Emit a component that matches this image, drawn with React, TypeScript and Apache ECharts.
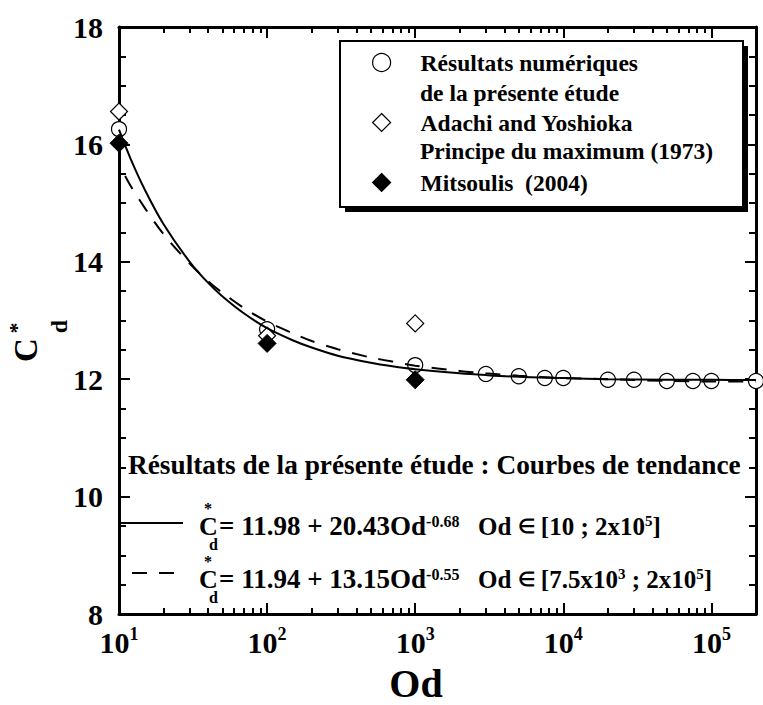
import React, { useEffect, useRef } from "react";
import * as echarts from "echarts";

// ---- Data ----
const numericalResults: [number, number][] = [
  [10, 16.26], [100, 12.85], [1000, 12.24], [3000, 12.09], [5000, 12.05],
  [7500, 12.02], [10000, 12.02], [20000, 11.99], [30000, 11.99],
  [50000, 11.97], [75000, 11.97], [100000, 11.97], [200000, 11.97],
];
const adachiYoshioka: [number, number][] = [[10, 16.56], [100, 12.74], [1000, 12.95]];
const mitsoulis: [number, number][] = [[10, 16.02], [100, 12.61], [1000, 11.99]];

// trend curves
const trendSolid: [number, number][] = [
  [10, 16.25], [12, 15.75], [15, 15.22], [20, 14.64], [30, 14.0], [40, 13.64],
  [50, 13.41], [70, 13.12], [100, 12.87], [150, 12.66], [200, 12.54], [300, 12.4],
  [500, 12.28], [700, 12.22], [1000, 12.17], [2000, 12.1], [3000, 12.07],
  [5000, 12.04], [10000, 12.02], [20000, 12.0], [50000, 11.99], [100000, 11.99],
  [200000, 11.985],
];
const trendDashed: [number, number][] = [
  [11, 15.46], [12, 15.29], [15, 14.91], [20, 14.47], [30, 13.97], [40, 13.67],
  [50, 13.47], [70, 13.21], [100, 12.98], [150, 12.78], [200, 12.65], [300, 12.51],
  [500, 12.37], [700, 12.3], [1000, 12.23], [2000, 12.14], [3000, 12.1],
  [5000, 12.06], [10000, 12.02], [20000, 12.0], [50000, 11.97], [100000, 11.96],
  [200000, 11.96],
];

const xMajorTicks = [10, 100, 1000, 10000, 100000];
const xMinorTicks = [
  20, 30, 40, 50, 60, 70, 80, 90,
  200, 300, 400, 500, 600, 700, 800, 900,
  2000, 3000, 4000, 5000, 6000, 7000, 8000, 9000,
  20000, 30000, 40000, 50000, 60000, 70000, 80000, 90000,
];
const yMin = 8;
const yMax = 18;
const yInterval = 2;

const seriesNames = ["Résultats numériques", "Adachi and Yoshioka", "Mitsoulis  (2004)"];
const legendSecondLines = ["de la présente étude", "Principe du maximum (1973)"];
const trendTitle = "Résultats de la présente étude : Courbes de tendance";
const eqSymbol = "{s|*}\n{c|C}\n{d|d}";
const eq1 = { a: "= 11.98 + 20.43Od", exp: "-0.68", range: "{m|Od }{e|∈}{m| [10 ; 2x10}{s|5}{m|]}" };
const eq2 = { a: "= 11.94 + 13.15Od", exp: "-0.55", range: "{m|Od }{e|∈}{m| [7.5x10}{s|3}{m| ; 2x10}{s|5}{m|]}" };

const FONT = "Liberation Serif";

function logTick(len: number, values: number[]) {
  return { show: true, inside: true, length: len, customValues: values, lineStyle: { color: "#000", width: 2 } };
}

export default function App() {
  const ref = useRef<HTMLDivElement>(null);
  useEffect(() => {
    if (!ref.current) return;
    const chart = echarts.init(ref.current, undefined, { renderer: "svg" });
    const bold = { fontWeight: "bold", fontFamily: FONT, color: "#000" };
    const eqRichA = {
      m: { fontSize: 27, lineHeight: 26, ...bold },
      s: { fontSize: 16, lineHeight: 14, verticalAlign: "top", ...bold },
    };
    const eqRichB = {
      m: { fontSize: 25, lineHeight: 26, ...bold },
      e: { fontSize: 20, lineHeight: 26, ...bold },
      s: { fontSize: 15, lineHeight: 14, verticalAlign: "top", ...bold },
    };
    const symRich = {
      s: { fontSize: 16, lineHeight: 13, padding: [0, 0, 0, 5], ...bold },
      c: { fontSize: 26, lineHeight: 22, ...bold },
      d: { fontSize: 16, lineHeight: 14, padding: [0, 0, 0, 10], ...bold },
    };
    const txt = (x: number, y: number, text: string, size: number, extra: any = {}, rot = 0) => ({
      type: "text",
      x,
      y,
      rotation: rot,
      z: 20,
      style: {
        text,
        fontSize: size,
        fontWeight: "bold",
        fontFamily: FONT,
        fill: "#000",
        align: "left",
        verticalAlign: "middle",
        ...extra,
      },
    });
    const R = Math.PI / 2;
    const option: any = {
      animation: false,
      backgroundColor: "#fff",
      grid: { left: 119, right: 7, top: 27, bottom: 91, containLabel: false, outerBoundsMode: "none" },
      xAxis: [
        {
          type: "log", logBase: 10, min: 10, max: 200000, position: "bottom",
          axisLine: { show: true, onZero: false, lineStyle: { color: "#000", width: 3 } },
          axisTick: logTick(11, xMajorTicks),
          axisLabel: {
            show: true,
            customValues: xMajorTicks,
            margin: 11,
            formatter: (v: number) => `{b|10}{s|${Math.round(Math.log10(v))}}`,
            rich: {
              b: { fontSize: 30, lineHeight: 34, ...bold },
              s: { fontSize: 18, lineHeight: 18, verticalAlign: "top", ...bold },
            },
          },
          splitLine: { show: false },
          name: "Od",
          nameLocation: "middle",
          nameGap: 52,
          nameTextStyle: { fontSize: 40, lineHeight: 34, ...bold, padding: [0, 43, 0, 0] },
        },
        {
          type: "log", logBase: 10, min: 10, max: 200000, position: "bottom",
          axisLine: { show: false, onZero: false },
          axisTick: logTick(6, xMinorTicks),
          axisLabel: { show: false },
          splitLine: { show: false },
        },
        {
          type: "log", logBase: 10, min: 10, max: 200000, position: "top",
          axisLine: { show: true, onZero: false, lineStyle: { color: "#000", width: 3 } },
          axisTick: logTick(11, xMajorTicks),
          axisLabel: { show: false },
          splitLine: { show: false },
        },
        {
          type: "log", logBase: 10, min: 10, max: 200000, position: "top",
          axisLine: { show: false, onZero: false },
          axisTick: logTick(6, xMinorTicks),
          axisLabel: { show: false },
          splitLine: { show: false },
        },
      ],
      yAxis: [
        {
          type: "value", min: yMin, max: yMax, interval: yInterval, position: "left",
          axisLine: { show: true, onZero: false, lineStyle: { color: "#000", width: 3 } },
          axisTick: { show: true, inside: true, length: 11, lineStyle: { color: "#000", width: 2 } },
          minorTick: { show: true, splitNumber: 4, length: 7, lineStyle: { color: "#000", width: 2 } },
          axisLabel: { show: true, margin: 16, fontSize: 30, ...bold },
          splitLine: { show: false },
          minorSplitLine: { show: false },
        },
        {
          type: "value", min: yMin, max: yMax, interval: yInterval, position: "right",
          axisLine: { show: true, onZero: false, lineStyle: { color: "#000", width: 3 } },
          axisTick: { show: true, inside: true, length: 11, lineStyle: { color: "#000", width: 2 } },
          minorTick: { show: true, splitNumber: 4, length: 7, lineStyle: { color: "#000", width: 2 } },
          axisLabel: { show: false },
          splitLine: { show: false },
          minorSplitLine: { show: false },
        },
      ],
      legend: {
        data: seriesNames,
        orient: "vertical",
        left: 372,
        top: 48,
        z: 10,
        padding: 0,
        itemGap: 31,
        itemWidth: 18,
        itemHeight: 18,
        selectedMode: false,
        itemStyle: { borderWidth: 1.2, opacity: 1 },
        formatter: (name: string) => `{g| }{t|${name}}`,
        textStyle: {
          fontSize: 23.5, lineHeight: 29, ...bold,
          rich: {
            g: { width: 25, fontSize: 23.5, lineHeight: 29 },
            t: { fontSize: 23.5, lineHeight: 29, ...bold },
          },
        },
      },
      graphic: [
        { type: "rect", z: 5, shape: { x: 345, y: 46, width: 403, height: 166 }, style: { fill: "#000" } },
        { type: "rect", z: 6, shape: { x: 340, y: 41, width: 403, height: 166 }, style: { fill: "#fff", stroke: "#000", lineWidth: 2 } },
        txt(420, 93, legendSecondLines[0], 23.5),
        txt(420, 151, legendSecondLines[1], 23.5),
        // y axis title C*_d (rotated, reads bottom to top)
        txt(26, 350, "C", 33, { align: "center" }, R),
        txt(16, 328, "*", 22, { align: "center" }, R),
        txt(58.5, 326.5, "d", 24, { align: "center" }, R),
        // trend legend
        txt(128, 465, trendTitle, 27.3),
        { type: "line", z: 20, shape: { x1: 120, y1: 523, x2: 183, y2: 523 }, style: { stroke: "#000", lineWidth: 2 } },
        { type: "line", z: 20, shape: { x1: 132, y1: 573, x2: 176, y2: 573 }, style: { stroke: "#000", lineWidth: 2, lineDash: [15, 12] } },
        txt(199, 502, eqSymbol, 26, { rich: symRich, verticalAlign: "top" }),
        txt(219, 526, `{m|${eq1.a}}{s|${eq1.exp}}`, 27, { rich: eqRichA }),
        txt(478, 526, eq1.range, 25, { rich: eqRichB }),
        txt(199, 555, eqSymbol, 26, { rich: symRich, verticalAlign: "top" }),
        txt(219, 579, `{m|${eq2.a}}{s|${eq2.exp}}`, 27, { rich: eqRichA }),
        txt(478, 579, eq2.range, 25, { rich: eqRichB }),
      ],
      series: [
        {
          name: seriesNames[0], type: "scatter", data: numericalResults, symbol: "circle", symbolSize: 15,
          itemStyle: { color: "#fff", borderColor: "#000", borderWidth: 1.2, opacity: 1 }, z: 3,
        },
        {
          name: seriesNames[1], type: "scatter", data: adachiYoshioka, symbol: "diamond", symbolSize: 17,
          itemStyle: { color: "#fff", borderColor: "#000", borderWidth: 1.2, opacity: 1 }, z: 3,
        },
        {
          name: seriesNames[2], type: "scatter", data: mitsoulis, symbol: "diamond", symbolSize: 18,
          itemStyle: { color: "#000", borderColor: "#000", borderWidth: 1, opacity: 1 }, z: 3,
        },
        {
          name: "Tendance (Od ∈ [10 ; 2x10^5])", type: "line", data: trendSolid, showSymbol: false, smooth: 0.3,
          lineStyle: { color: "#000", width: 2 }, z: 4,
        },
        {
          name: "Tendance (Od ∈ [7.5x10^3 ; 2x10^5])", type: "line", data: trendDashed, showSymbol: false, smooth: 0.3,
          lineStyle: { color: "#000", width: 2, type: [15, 12] }, z: 4,
        },
      ],
    };
    chart.setOption(option);
    return () => chart.dispose();
  }, []);
  return (
    <div
      ref={ref}
      style={{ position: "fixed", left: 0, top: 0, width: 763, height: 705, background: "#fff" }}
    />
  );
}
